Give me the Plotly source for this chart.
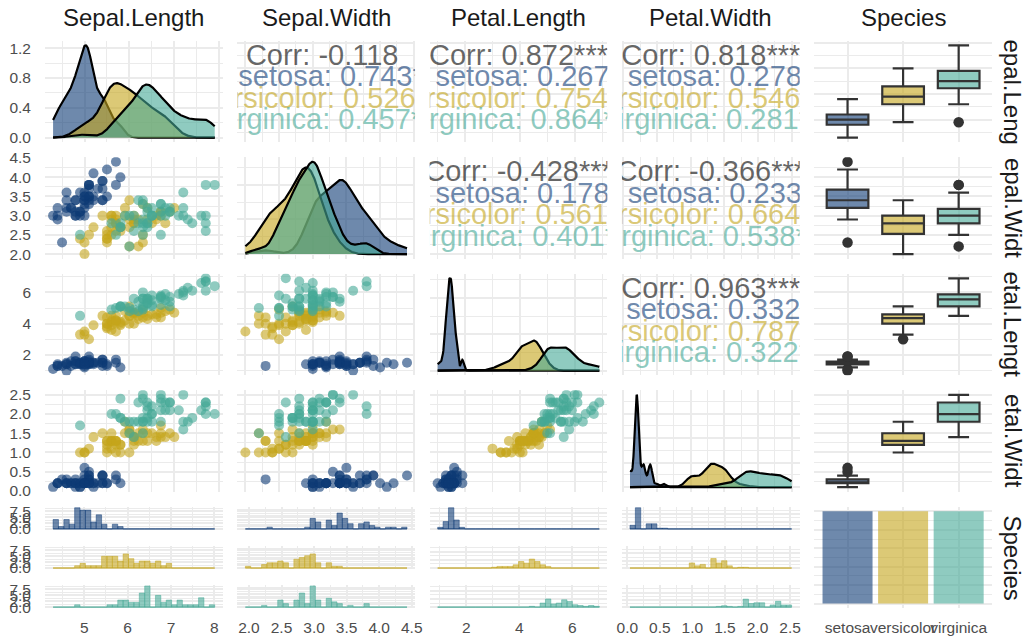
import math
import numpy as np
import plotly.graph_objects as go

# ---------------- iris measurements ----------------
sepal_length = [
    5.1, 4.9, 4.7, 4.6, 5.0, 5.4, 4.6, 5.0, 4.4, 4.9, 5.4, 4.8, 4.8, 4.3, 5.8, 5.7, 5.4, 5.1, 5.7, 5.1,
    5.4, 5.1, 4.6, 5.1, 4.8, 5.0, 5.0, 5.2, 5.2, 4.7, 4.8, 5.4, 5.2, 5.5, 4.9, 5.0, 5.5, 4.9, 4.4, 5.1,
    5.0, 4.5, 4.4, 5.0, 5.1, 4.8, 5.1, 4.6, 5.3, 5.0,
    7.0, 6.4, 6.9, 5.5, 6.5, 5.7, 6.3, 4.9, 6.6, 5.2, 5.0, 5.9, 6.0, 6.1, 5.6, 6.7, 5.6, 5.8, 6.2, 5.6,
    5.9, 6.1, 6.3, 6.1, 6.4, 6.6, 6.8, 6.7, 6.0, 5.7, 5.5, 5.5, 5.8, 6.0, 5.4, 6.0, 6.7, 6.3, 5.6, 5.5,
    5.5, 6.1, 5.8, 5.0, 5.6, 5.7, 5.7, 6.2, 5.1, 5.7,
    6.3, 5.8, 7.1, 6.3, 6.5, 7.6, 4.9, 7.3, 6.7, 7.2, 6.5, 6.4, 6.8, 5.7, 5.8, 6.4, 6.5, 7.7, 7.7, 6.0,
    6.9, 5.6, 7.7, 6.3, 6.7, 7.2, 6.2, 6.1, 6.4, 7.2, 7.4, 7.9, 6.4, 6.3, 6.1, 7.7, 6.3, 6.4, 6.0, 6.9,
    6.7, 6.9, 5.8, 6.8, 6.7, 6.7, 6.3, 6.5, 6.2, 5.9,
]
sepal_width = [
    3.5, 3.0, 3.2, 3.1, 3.6, 3.9, 3.4, 3.4, 2.9, 3.1, 3.7, 3.4, 3.0, 3.0, 4.0, 4.4, 3.9, 3.5, 3.8, 3.8,
    3.4, 3.7, 3.6, 3.3, 3.4, 3.0, 3.4, 3.5, 3.4, 3.2, 3.1, 3.4, 4.1, 4.2, 3.1, 3.2, 3.5, 3.6, 3.0, 3.4,
    3.5, 2.3, 3.2, 3.5, 3.8, 3.0, 3.8, 3.2, 3.7, 3.3,
    3.2, 3.2, 3.1, 2.3, 2.8, 2.8, 3.3, 2.4, 2.9, 2.7, 2.0, 3.0, 2.2, 2.9, 2.9, 3.1, 3.0, 2.7, 2.2, 2.5,
    3.2, 2.8, 2.5, 2.8, 2.9, 3.0, 2.8, 3.0, 2.9, 2.6, 2.4, 2.4, 2.7, 2.7, 3.0, 3.4, 3.1, 2.3, 3.0, 2.5,
    2.6, 3.0, 2.6, 2.3, 2.7, 3.0, 2.9, 2.9, 2.5, 2.8,
    3.3, 2.7, 3.0, 2.9, 3.0, 3.0, 2.5, 2.9, 2.5, 3.6, 3.2, 2.7, 3.0, 2.5, 2.8, 3.2, 3.0, 3.8, 2.6, 2.2,
    3.2, 2.8, 2.8, 2.7, 3.3, 3.2, 2.8, 3.0, 2.8, 3.0, 2.8, 3.8, 2.8, 2.8, 2.6, 3.0, 3.4, 3.1, 3.0, 3.1,
    3.1, 3.1, 2.7, 3.2, 3.3, 3.0, 2.5, 3.0, 3.4, 3.0,
]
petal_length = [
    1.4, 1.4, 1.3, 1.5, 1.4, 1.7, 1.4, 1.5, 1.4, 1.5, 1.5, 1.6, 1.4, 1.1, 1.2, 1.5, 1.3, 1.4, 1.7, 1.5,
    1.7, 1.5, 1.0, 1.7, 1.9, 1.6, 1.6, 1.5, 1.4, 1.6, 1.6, 1.5, 1.5, 1.4, 1.5, 1.2, 1.3, 1.4, 1.3, 1.5,
    1.3, 1.3, 1.3, 1.6, 1.9, 1.4, 1.6, 1.4, 1.5, 1.4,
    4.7, 4.5, 4.9, 4.0, 4.6, 4.5, 4.7, 3.3, 4.6, 3.9, 3.5, 4.2, 4.0, 4.7, 3.6, 4.4, 4.5, 4.1, 4.5, 3.9,
    4.8, 4.0, 4.9, 4.7, 4.3, 4.4, 4.8, 5.0, 4.5, 3.5, 3.8, 3.7, 3.9, 5.1, 4.5, 4.5, 4.7, 4.4, 4.1, 4.0,
    4.4, 4.6, 4.0, 3.3, 4.2, 4.2, 4.2, 4.3, 3.0, 4.1,
    6.0, 5.1, 5.9, 5.6, 5.8, 6.6, 4.5, 6.3, 5.8, 6.1, 5.1, 5.3, 5.5, 5.0, 5.1, 5.3, 5.5, 6.7, 6.9, 5.0,
    5.7, 4.9, 6.7, 4.9, 5.7, 6.0, 4.8, 4.9, 5.6, 5.8, 6.1, 6.4, 5.6, 5.1, 5.6, 6.1, 5.6, 5.5, 4.8, 5.4,
    5.6, 5.1, 5.1, 5.9, 5.7, 5.2, 5.0, 5.2, 5.4, 5.1,
]
petal_width = [
    0.2, 0.2, 0.2, 0.2, 0.2, 0.4, 0.3, 0.2, 0.2, 0.1, 0.2, 0.2, 0.1, 0.1, 0.2, 0.4, 0.4, 0.3, 0.3, 0.3,
    0.2, 0.4, 0.2, 0.5, 0.2, 0.2, 0.4, 0.2, 0.2, 0.2, 0.2, 0.4, 0.1, 0.2, 0.2, 0.2, 0.2, 0.1, 0.2, 0.2,
    0.3, 0.3, 0.2, 0.6, 0.4, 0.3, 0.2, 0.2, 0.2, 0.2,
    1.4, 1.5, 1.5, 1.3, 1.5, 1.3, 1.6, 1.0, 1.3, 1.4, 1.0, 1.5, 1.0, 1.4, 1.3, 1.4, 1.5, 1.0, 1.5, 1.1,
    1.8, 1.3, 1.5, 1.2, 1.3, 1.4, 1.4, 1.7, 1.5, 1.0, 1.1, 1.0, 1.2, 1.6, 1.5, 1.6, 1.5, 1.3, 1.3, 1.3,
    1.2, 1.4, 1.2, 1.0, 1.3, 1.2, 1.3, 1.3, 1.1, 1.3,
    2.5, 1.9, 2.1, 1.8, 2.2, 2.1, 1.7, 1.8, 1.8, 2.5, 2.0, 1.9, 2.1, 2.0, 2.4, 2.3, 1.8, 2.2, 2.3, 1.5,
    2.3, 2.0, 2.0, 1.8, 2.1, 1.8, 1.8, 1.8, 2.1, 1.6, 1.9, 2.0, 2.2, 1.5, 1.4, 2.3, 2.4, 1.8, 1.8, 2.1,
    2.4, 2.3, 1.9, 2.3, 2.5, 2.3, 1.9, 2.0, 2.3, 1.8,
]
species = ["setosa"] * 50 + ["versicolor"] * 50 + ["virginica"] * 50

species_levels = ["setosa", "versicolor", "virginica"]
variable_names = ["Sepal.Length", "Sepal.Width", "Petal.Length", "Petal.Width"]
column_titles = variable_names + ["Species"]
row_strips = ["epal.Leng", "epal.Widt", "etal.Lengt", "etal.Widt", "Species"]

# ---------------- styling ----------------
SPECIES_RGB = {"setosa": (14, 58, 117), "versicolor": (196, 165, 27), "virginica": (68, 168, 150)}
ALPHA = 0.6
FONT = "Liberation Sans, Arial, sans-serif"
GRID = "#EBEBEB"
GRID_MAJOR_W = 1.8
GRID_MINOR_W = 0.9
TICK_SIZE = 15.5
TICK_COLOR = "#4D4D4D"
STRIP_SIZE = 24
STRIP_COLOR = "#1A1A1A"
CORR_SIZE = 29
CORR_DROP_PX = 3.0
BOX_LINE = "#333333"
NBSP = "\u00a0"

W, H = 1025, 639
PANEL_LEFT, PANEL_W, PANEL_DX = 45.0, 177.8, 192.3
PANEL_TOP, PANEL_H, PANEL_DY = 40.7, 101.5, 116.5
FACET_H, FACET_DY = 23.3, 39.1


def rgba(name, a=ALPHA):
    r, g, b = SPECIES_RGB[name]
    return f"rgba({r},{g},{b},{a})"


# ---------------- scale helpers (ggplot-like) ----------------
def expand(lo, hi, mult=0.05):
    d = hi - lo
    return lo - mult * d, hi + mult * d


def extended(dmin, dmax, m=5):
    Q = [1, 5, 2, 2.5, 4, 3]
    w = [0.25, 0.2, 0.5, 0.05]
    n = len(Q)
    eps = 2.220446e-16 * 100
    best_score = -2.0
    best = None
    j = 1
    while True:
        stop = False
        for qi, q in enumerate(Q):
            sm = 1 - qi / (n - 1) - j + 1
            if w[0] * sm + w[1] + w[2] + w[3] < best_score:
                stop = True
                break
            k = 2
            while True:
                dm = 2 - (k - 1.0) / (m - 1.0) if k >= m else 1.0
                if w[0] * sm + w[1] + w[2] * dm + w[3] < best_score:
                    break
                delta = (dmax - dmin) / (k + 1) / j / q
                z = math.ceil(math.log10(delta))
                while True:
                    step = j * q * 10.0 ** z
                    span = step * (k - 1)
                    rng = dmax - dmin
                    if span > rng:
                        half = (span - rng) / 2
                        cm = 1 - 0.5 * (2 * half * half) / ((0.1 * rng) ** 2)
                    else:
                        cm = 1.0
                    if w[0] * sm + w[1] * cm + w[2] * dm + w[3] < best_score:
                        break
                    min_start = math.floor(dmax / step) * j - (k - 1) * j
                    max_start = math.ceil(dmin / step) * j
                    if min_start > max_start:
                        z += 1
                        continue
                    for start in range(int(min_start), int(max_start) + 1):
                        lmin = start * (step / j)
                        lmax = lmin + step * (k - 1)
                        mod = lmin % step
                        v = 1 if ((mod < eps or step - mod < eps) and lmin <= 0 <= lmax) else 0
                        s = 1 - qi / (n - 1) - j + v
                        c = 1 - 0.5 * ((dmax - lmax) ** 2 + (dmin - lmin) ** 2) / ((0.1 * rng) ** 2)
                        r = (k - 1) / (lmax - lmin)
                        rt = (m - 1) / (max(lmax, dmax) - min(dmin, lmin))
                        g = 2 - max(r / rt, rt / r)
                        score = w[0] * s + w[1] * c + w[2] * g + w[3]
                        if score > best_score:
                            best_score = score
                            best = (lmin, lmax, step)
                    z += 1
                k += 1
        if stop:
            break
        j += 1
    lmin, lmax, step = best
    count = int(round((lmax - lmin) / step)) + 1
    return [round(lmin + i * step, 10) for i in range(count)]


def grid_for(lo, hi):
    major = [b for b in extended(lo, hi) if lo <= b <= hi]
    minor = []
    if len(major) >= 2:
        bd = major[1] - major[0]
        ext = [major[0] - bd] + major + [major[-1] + bd]
        minor = [round((a + b) / 2, 10) for a, b in zip(ext[:-1], ext[1:])]
        minor = [v for v in minor if lo <= v <= hi]
    return major, minor


def fmt_breaks(vals):
    dec = 0
    for v in vals:
        s = f"{v:.6f}".rstrip("0").rstrip(".")
        if "." in s:
            dec = max(dec, len(s.split(".")[1]))
    return [f"{v:.{dec}f}" for v in vals]


# ---------------- statistics ----------------
def nrd0(x):
    x = np.asarray(x, float)
    sd = x.std(ddof=1)
    q75, q25 = np.quantile(x, [0.75, 0.25])
    lo = min(sd, (q75 - q25) / 1.34)
    if lo <= 0:
        lo = sd if sd > 0 else 1.0
    return 0.9 * lo * len(x) ** (-0.2)


def kde(x, grid, bw):
    x = np.asarray(x, float)
    z = (grid[:, None] - x[None, :]) / bw
    return np.exp(-0.5 * z * z).sum(axis=1) / (len(x) * bw * math.sqrt(2 * math.pi))


def gg_bin_edges(x, bins=30):
    lo, hi = float(np.min(x)), float(np.max(x))
    width = (hi - lo) / (bins - 1)
    boundary = width / 2
    shift = math.floor((lo - boundary) / width)
    origin = boundary + shift * width
    max_x = hi + (1 - 1e-08) * width
    edges = []
    i = 0
    e = origin
    while e <= max_x + 1e-12:
        edges.append(e)
        i += 1
        e = origin + i * width
    return np.array(edges), width


def bin_counts_right(x, edges):
    fuzz = 1e-08 * np.median(np.diff(edges))
    fe = edges + fuzz
    fe[0] = edges[0] - fuzz
    idx = np.searchsorted(fe, np.asarray(x, float), side="left") - 1
    counts = np.zeros(len(edges) - 1, int)
    for i in idx:
        counts[i] += 1
    return counts


def box_stats(x):
    x = np.asarray(x, float)
    q1, med, q3 = np.quantile(x, [0.25, 0.5, 0.75])
    iqr = q3 - q1
    inside = x[(x >= q1 - 1.5 * iqr) & (x <= q3 + 1.5 * iqr)]
    outliers = x[(x < q1 - 1.5 * iqr) | (x > q3 + 1.5 * iqr)]
    return q1, med, q3, float(inside.min()), float(inside.max()), outliers


def corr_parts(x, y):
    x = np.asarray(x, float)
    y = np.asarray(y, float)
    n = len(x)
    r = float(np.corrcoef(x, y)[0, 1])
    df = n - 2
    t = r * math.sqrt(df / (1 - r * r))
    xb = df / (df + t * t)
    a, b = df / 2.0, 0.5
    u = np.linspace(0.0, xb, 400001)[1:]
    log_beta = math.lgamma(a) + math.lgamma(b) - math.lgamma(a + b)
    f = np.exp((a - 1) * np.log(u) + (b - 1) * np.log1p(-u) - log_beta)
    p = float(np.sum((f[1:] + f[:-1]) * np.diff(u)) / 2)
    if p < 0.001:
        stars = "***"
    elif p < 0.01:
        stars = "**"
    elif p < 0.05:
        stars = "*"
    elif p < 0.1:
        stars = "."
    else:
        stars = NBSP
    return f"{r:.3f}", stars


def corr_lines(x, y):
    val, st = corr_parts(x, y)
    out = [("Corr: " + val + st, "rgba(0,0,0,0.6)")]
    groups = []
    for s in species_levels:
        m = masks[s]
        groups.append((s, "".join(corr_parts(x[m], y[m]))))
    name_w = max(len(g[0]) for g in groups)
    val_w = max(len(g[1]) for g in groups)
    for s, v in groups:
        name = NBSP * (name_w - len(s)) + s
        value = v + NBSP * (val_w - len(v))
        out.append((name + ":" + NBSP + value, rgba(s)))
    return out


# ---------------- data prep ----------------
values = [np.array(v, float) for v in (sepal_length, sepal_width, petal_length, petal_width)]
for v in values:
    assert len(v) == len(species)
sp = np.array(species)
masks = {s: sp == s for s in species_levels}

data_range = [(float(v.min()), float(v.max())) for v in values]
scale_range = [expand(*r) for r in data_range]
scale_grid = [grid_for(*r) for r in scale_range]

densities = []
for v, (lo, hi) in zip(values, data_range):
    g = np.linspace(lo, hi, 512)
    d = {s: kde(v[masks[s]], g, nrd0(v[masks[s]])) for s in species_levels}
    densities.append((g, d))

histograms = []
for v in values:
    edges, width = gg_bin_edges(v)
    counts = {s: bin_counts_right(v[masks[s]], edges) for s in species_levels}
    histograms.append((edges, width, counts))

# ---------------- figure construction ----------------
fig = go.Figure()
axes_layout = {}
axis_counter = [0]


def add_axes(left, top, width, height, xrange, yrange, xgrid, ygrid,
             show_x=False, show_y=False, xtext=None):
    axis_counter[0] += 1
    k = axis_counter[0]
    sfx = "" if k == 1 else str(k)
    common = dict(showline=False, zeroline=False, ticks="", fixedrange=True,
                  showgrid=True, gridcolor=GRID, gridwidth=GRID_MAJOR_W,
                  tickfont=dict(family=FONT, size=TICK_SIZE, color=TICK_COLOR),
                  tickmode="array", automargin=False)
    xmaj, xmin_ = xgrid
    ymaj, ymin_ = ygrid
    axes_layout["xaxis" + sfx] = dict(
        common, domain=[left / W, (left + width) / W], range=list(xrange),
        anchor="y" + sfx, tickvals=list(xmaj),
        ticktext=xtext if xtext is not None else fmt_breaks(xmaj),
        showticklabels=show_x, tickangle=0, ticklabelstandoff=8,
        minor=dict(tickmode="array", tickvals=list(xmin_), showgrid=bool(xmin_),
                   gridcolor=GRID, gridwidth=GRID_MINOR_W, ticks=""))
    axes_layout["yaxis" + sfx] = dict(
        common, domain=[1 - (top + height) / H, 1 - top / H], range=list(yrange),
        anchor="x" + sfx, tickvals=list(ymaj), ticktext=fmt_breaks(ymaj),
        showticklabels=show_y, ticklabelstandoff=13,
        minor=dict(tickmode="array", tickvals=list(ymin_), showgrid=bool(ymin_),
                   gridcolor=GRID, gridwidth=GRID_MINOR_W, ticks=""))
    return "x" + sfx, "y" + sfx


cat_range = (-0.6, 2.6)
cat_grid = ([0, 1, 2], [])

for r in range(5):
    for c in range(5):
        left = PANEL_LEFT + c * PANEL_DX
        top = PANEL_TOP + r * PANEL_DY

        if r < 4 and c < 4:
            if r == c:
                # diagonal: per-species kernel densities
                g, d = densities[c]
                dmax = max(float(arr.max()) for arr in d.values())
                yr = expand(0.0, dmax)
                xa, ya = add_axes(left, top, PANEL_W, PANEL_H, scale_range[c], yr,
                                  scale_grid[c], grid_for(*yr), show_y=(c == 0))
                for s in species_levels:
                    fig.add_trace(go.Scatter(
                        x=g, y=d[s], mode="lines", fill="tozeroy", fillcolor=rgba(s),
                        line=dict(color="black", width=2.2), xaxis=xa, yaxis=ya,
                        hoverinfo="skip", showlegend=False))
            elif r > c:
                # lower triangle: scatter plots
                xa, ya = add_axes(left, top, PANEL_W, PANEL_H, scale_range[c], scale_range[r],
                                  scale_grid[c], scale_grid[r], show_y=(c == 0))
                for s in species_levels:
                    m = masks[s]
                    fig.add_trace(go.Scatter(
                        x=values[c][m], y=values[r][m], mode="markers",
                        marker=dict(size=10, color=rgba(s), line=dict(width=0)),
                        xaxis=xa, yaxis=ya, hoverinfo="skip", showlegend=False))
            else:
                # upper triangle: correlation text
                xa, ya = add_axes(left, top, PANEL_W, PANEL_H, scale_range[c], scale_range[r],
                                  scale_grid[c], scale_grid[r])
                xlo, xhi = data_range[c]
                ylo, yhi = data_range[r]
                ylo_s, yhi_s = scale_range[r]
                drop = CORR_DROP_PX / PANEL_H * (yhi_s - ylo_s)
                fracs = np.linspace(0.9, 0.2, 4)
                for (txt, col), fr in zip(corr_lines(values[c], values[r]), fracs):
                    fig.add_trace(go.Scatter(
                        x=[xlo + 0.5 * (xhi - xlo)], y=[ylo + fr * (yhi - ylo) - drop],
                        mode="text", text=[txt], textposition="middle center",
                        textfont=dict(family=FONT, size=CORR_SIZE, color=col),
                        cliponaxis=True, xaxis=xa, yaxis=ya,
                        hoverinfo="skip", showlegend=False))

        elif r < 4 and c == 4:
            # right column: box plots by species
            xa, ya = add_axes(left, top, PANEL_W, PANEL_H, cat_range, scale_range[r],
                              cat_grid, scale_grid[r])
            for i, s in enumerate(species_levels):
                q1, med, q3, lo_w, hi_w, outl = box_stats(values[r][masks[s]])
                fig.add_trace(go.Box(
                    x=[i], q1=[q1], median=[med], q3=[q3],
                    lowerfence=[lo_w], upperfence=[hi_w], width=0.75,
                    fillcolor=rgba(s), line=dict(color=BOX_LINE, width=2.2),
                    boxpoints=False, xaxis=xa, yaxis=ya,
                    hoverinfo="skip", showlegend=False))
                if len(outl):
                    fig.add_trace(go.Scatter(
                        x=[i] * len(outl), y=outl, mode="markers",
                        marker=dict(color=BOX_LINE, size=10.5, line=dict(width=0)),
                        xaxis=xa, yaxis=ya, hoverinfo="skip", showlegend=False))

        elif r == 4 and c < 4:
            # bottom row: histograms faceted by species
            edges, width, counts = histograms[c]
            centers = (edges[:-1] + edges[1:]) / 2
            xr = expand(float(edges[0]), float(edges[-1]))
            cmax = max(int(cc.max()) for cc in counts.values())
            yr = expand(0.0, float(cmax))
            xg, yg = grid_for(*xr), grid_for(*yr)
            for f, s in enumerate(species_levels):
                ftop = top + f * FACET_DY
                xa, ya = add_axes(left, ftop, PANEL_W, FACET_H, xr, yr, xg, yg,
                                  show_x=(f == 2), show_y=(c == 0))
                fig.add_trace(go.Scatter(
                    x=[edges[0], edges[-1]], y=[0, 0], mode="lines",
                    line=dict(color=rgba(s), width=1), xaxis=xa, yaxis=ya,
                    hoverinfo="skip", showlegend=False))
                fig.add_trace(go.Bar(
                    x=centers, y=counts[s], width=width,
                    marker=dict(color=rgba(s), line=dict(color=rgba(s), width=0.8)),
                    xaxis=xa, yaxis=ya, hoverinfo="skip", showlegend=False))

        else:
            # bottom-right: species counts
            n_per = [species.count(s) for s in species_levels]
            yr = expand(0.0, float(max(n_per)))
            xa, ya = add_axes(left, top, PANEL_W, PANEL_H, cat_range, yr,
                              cat_grid, grid_for(*yr), show_x=True, xtext=species_levels)
            for i, s in enumerate(species_levels):
                fig.add_trace(go.Bar(
                    x=[i], y=[n_per[i]], width=0.9,
                    marker=dict(color=rgba(s), line=dict(width=0)),
                    xaxis=xa, yaxis=ya, hoverinfo="skip", showlegend=False))

annotations = []
for c, title in enumerate(column_titles):
    cx = PANEL_LEFT + c * PANEL_DX + PANEL_W / 2
    annotations.append(dict(x=cx / W, y=1 - 18 / H, xref="paper", yref="paper",
                            text=title, showarrow=False, xanchor="center", yanchor="middle",
                            font=dict(family=FONT, size=STRIP_SIZE, color=STRIP_COLOR)))
for r, label in enumerate(row_strips):
    cy = PANEL_TOP + r * PANEL_DY + PANEL_H / 2
    annotations.append(dict(x=1013 / W, y=1 - cy / H, xref="paper", yref="paper",
                            text=label, showarrow=False, textangle=90,
                            xanchor="center", yanchor="middle",
                            font=dict(family=FONT, size=STRIP_SIZE, color=STRIP_COLOR)))

fig.update_layout(
    width=W, height=H, margin=dict(l=0, r=0, t=0, b=0),
    paper_bgcolor="white", plot_bgcolor="rgba(0,0,0,0)",
    barmode="overlay", boxmode="overlay", showlegend=False,
    font=dict(family=FONT), annotations=annotations, **axes_layout)

fig.write_html("out.html", config={"displayModeBar": False})
